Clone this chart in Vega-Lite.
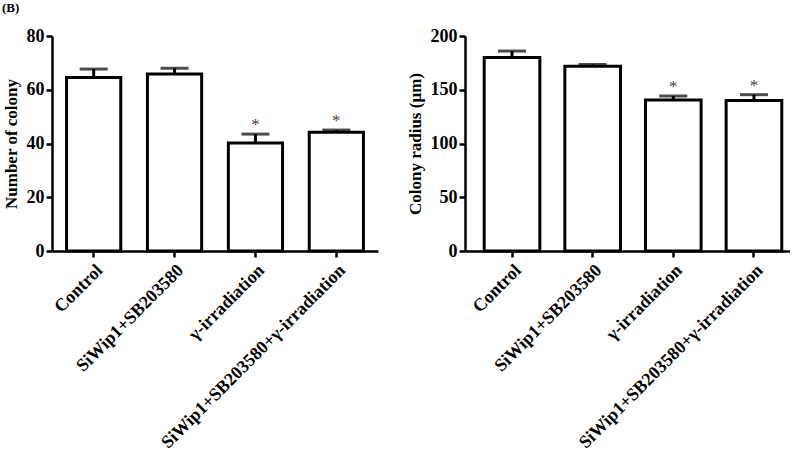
{
  "$schema": "https://vega.github.io/schema/vega-lite/v6.json",
  "padding": {"left": 2, "top": 2, "right": 0, "bottom": 0},
  "title": {"text": "(B)", "anchor": "start", "frame": "bounds", "fontSize": 13, "font": "Liberation Serif", "fontWeight": "bold", "offset": 12, "baseline": "top", "dx": 0},
  "spacing": 28,
  "config": {
    "font": "Liberation Serif",
    "view": {"stroke": null},
    "axis": {
      "domainColor": "black", "domainWidth": 2.5, "tickColor": "black", "tickWidth": 2.5, "tickSize": 6,
      "labelFont": "Liberation Serif", "labelFontWeight": "bold", "labelFontSize": 18, "labelColor": "black",
      "titleFont": "Liberation Serif", "titleFontWeight": "bold", "titleFontSize": 17, "titleColor": "black",
      "grid": false
    }
  },
  "datasets": {
    "colony": [
      {"group": "Control", "value": 64.6, "err": 67.7, "star": ""},
      {"group": "SiWip1+SB203580", "value": 65.9, "err": 68.0, "star": ""},
      {"group": "γ-irradiation", "value": 40.2, "err": 43.5, "star": "*"},
      {"group": "SiWip1+SB203580+γ-irradiation", "value": 44.2, "err": 45.0, "star": "*"}
    ],
    "radius": [
      {"group": "Control", "value": 180.1, "err": 186.0, "star": ""},
      {"group": "SiWip1+SB203580", "value": 171.8, "err": 173.6, "star": ""},
      {"group": "γ-irradiation", "value": 140.4, "err": 144.2, "star": "*"},
      {"group": "SiWip1+SB203580+γ-irradiation", "value": 140.0, "err": 145.4, "star": "*"}
    ]
  },
  "hconcat": [
    {
      "width": 326, "height": 215,
      "data": {"name": "colony"},
      "encoding": {
        "x": {"field": "group", "type": "nominal", "sort": null,
              "scale": {"paddingInner": 0.33, "paddingOuter": 0.18},
              "axis": {"title": null, "labelAngle": -45, "labelPadding": 4, "labelLimit": 400}}
      },
      "layer": [
        {"mark": {"type": "rule", "stroke": "black", "strokeWidth": 3},
         "encoding": {"y": {"field": "value", "type": "quantitative"}, "y2": {"field": "err"}}},
        {"mark": {"type": "tick", "color": "black", "thickness": 3, "size": 28},
         "encoding": {"y": {"field": "err", "type": "quantitative"}}},
        {"mark": {"type": "bar", "fill": "white", "stroke": "black", "strokeWidth": 3},
         "encoding": {"y": {"field": "value", "type": "quantitative", "scale": {"domain": [0, 80]},
                            "axis": {"title": "Number of colony", "values": [0, 20, 40, 60, 80], "labelPadding": 2, "titlePadding": 6}}}},
        {"mark": {"type": "text", "fontSize": 17, "color": "#444", "baseline": "middle", "dy": 2},
         "encoding": {"y": {"field": "err", "type": "quantitative"}, "text": {"field": "star"}, "yOffset": {"value": -11}}}
      ]
    },
    {
      "width": 325, "height": 215,
      "data": {"name": "radius"},
      "encoding": {
        "x": {"field": "group", "type": "nominal", "sort": null,
              "scale": {"paddingInner": 0.31, "paddingOuter": 0.17, "align": 0.7},
              "axis": {"title": null, "labelAngle": -45, "labelPadding": 4, "labelLimit": 400}}
      },
      "layer": [
        {"mark": {"type": "rule", "stroke": "black", "strokeWidth": 3},
         "encoding": {"y": {"field": "value", "type": "quantitative"}, "y2": {"field": "err"}}},
        {"mark": {"type": "tick", "color": "black", "thickness": 3, "size": 28},
         "encoding": {"y": {"field": "err", "type": "quantitative"}}},
        {"mark": {"type": "bar", "fill": "white", "stroke": "black", "strokeWidth": 3},
         "encoding": {"y": {"field": "value", "type": "quantitative", "scale": {"domain": [0, 200]},
                            "axis": {"title": "Colony radius (µm)", "values": [0, 50, 100, 150, 200], "labelPadding": 2, "titlePadding": 6}}}},
        {"mark": {"type": "text", "fontSize": 17, "color": "#444", "baseline": "middle", "dy": 2},
         "encoding": {"y": {"field": "err", "type": "quantitative"}, "text": {"field": "star"}, "yOffset": {"value": -11}}}
      ]
    }
  ]
}
